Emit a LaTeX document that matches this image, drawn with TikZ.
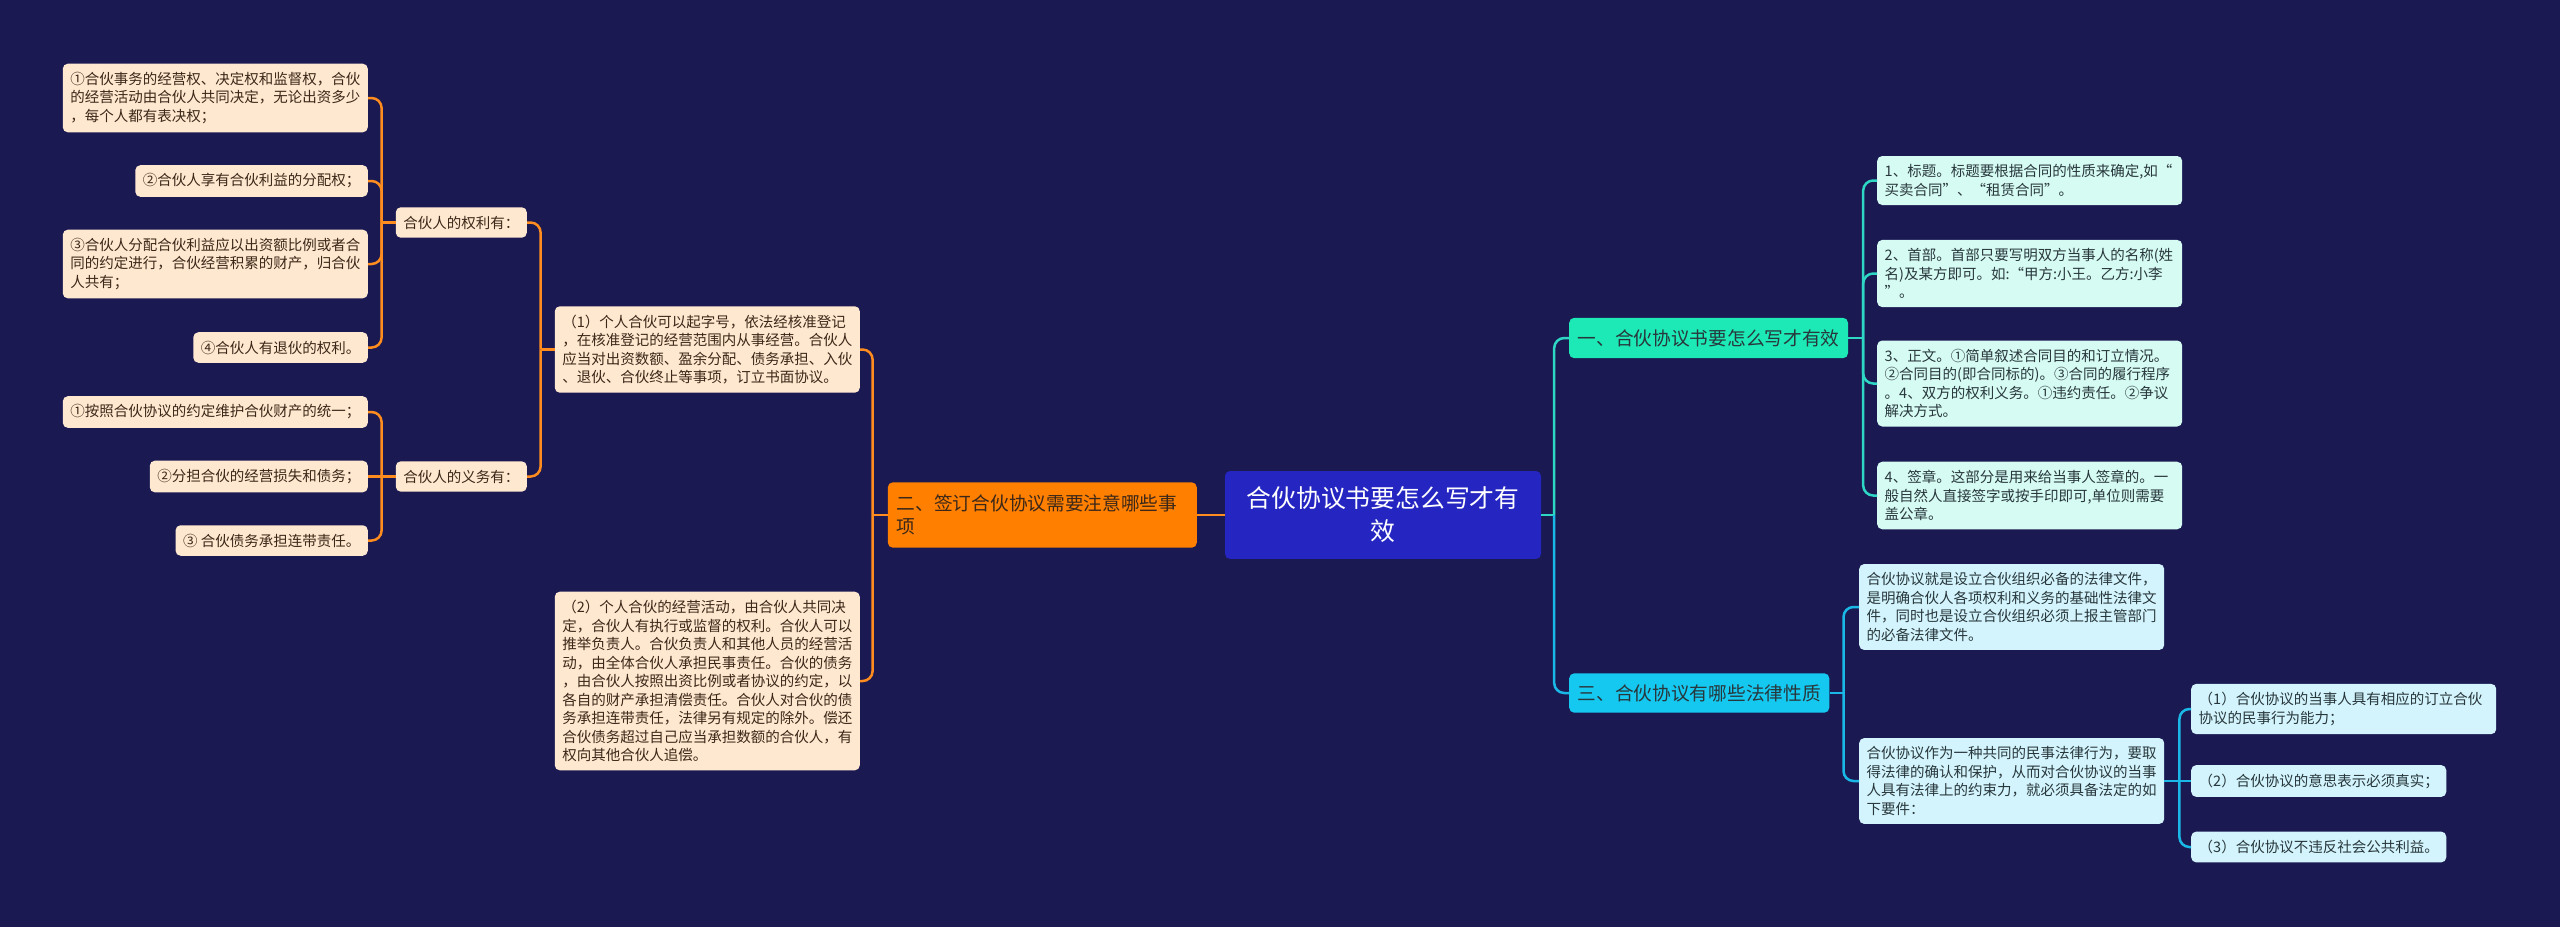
\documentclass[tikz,border=0pt]{standalone}
\usepackage{fontspec}
\setmainfont{Noto Sans CJK SC}
\usetikzlibrary{positioning}
\definecolor{bgnavy}{RGB}{26,25,82}
\definecolor{rootblue}{RGB}{37,38,194}
\definecolor{orangefill}{RGB}{255,127,0}
\definecolor{orangeline}{RGB}{255,140,30}
\definecolor{peach}{RGB}{255,232,208}
\definecolor{peachtext}{RGB}{60,40,25}
\definecolor{tealfill}{RGB}{29,233,182}
\definecolor{tealline}{RGB}{46,214,196}
\definecolor{mint}{RGB}{214,251,243}
\definecolor{cyanfill}{RGB}{21,200,240}
\definecolor{cyanline}{RGB}{26,184,230}
\definecolor{icecyan}{RGB}{211,244,252}
\definecolor{darktext}{RGB}{40,55,60}
\newcommand\leaffont{\fontsize{14.5}{18.5}\selectfont}
\newcommand\branchfont{\fontsize{18.7}{23}\selectfont}
\newcommand\rootfont{\fontsize{24.8}{33}\selectfont}
\tikzset{
  mapbox/.style={rounded corners=5pt, inner xsep=7.5pt, inner ysep=8.5pt, align=left, font=\leaffont},
  peachbox/.style={mapbox, fill=peach, text=peachtext},
  mintbox/.style={mapbox, fill=mint, text=darktext},
  icebox/.style={mapbox, fill=icecyan, text=darktext},
  wide/.style={text width=290pt},
  wire/.style={line width=2.5pt},
  elbow/.style={wire, rounded corners=10pt}
}

\begin{document}
\begin{tikzpicture}[x=1pt, y=-1pt]
  \fill[bgnavy] (0,0) rectangle (2560,927);

  % root
  \node[fill=rootblue, text=white, font=\rootfont, rounded corners=5pt,
        text width=290pt, align=center, inner xsep=13pt, inner ysep=16pt]
        (root) at (1383,515) {合伙协议书要怎么写才有\\效};

  % branch two (left)
  \node[fill=orangefill, text=peachtext, font=\branchfont, rounded corners=5pt,
        text width=291pt, align=left, inner xsep=9pt, inner ysep=12.5pt, anchor=east]
        (b2) at (1197,515) {二、签订合伙协议需要注意哪些事\\项};
  \node[peachbox, wide, anchor=east] (p1) at (860,349.5)
        {（1）个人合伙可以起字号，依法经核准登记\\，在核准登记的经营范围内从事经营。合伙人\\应当对出资数额、盈余分配、债务承担、入伙\\、退伙、合伙终止等事项，订立书面协议。};
  \node[peachbox, wide, anchor=east] (p2) at (860,681)
        {（2）个人合伙的经营活动，由合伙人共同决\\定，合伙人有执行或监督的权利。合伙人可以\\推举负责人。合伙负责人和其他人员的经营活\\动，由全体合伙人承担民事责任。合伙的债务\\，由合伙人按照出资比例或者协议的约定，以\\各自的财产承担清偿责任。合伙人对合伙的债\\务承担连带责任，法律另有规定的除外。偿还\\合伙债务超过自己应当承担数额的合伙人，有\\权向其他合伙人追偿。};
  \node[peachbox, anchor=east] (quan) at (527,222.5) {合伙人的权利有：};
  \node[peachbox, anchor=east] (yiwu) at (527,476.5) {合伙人的义务有：};

  \node[peachbox, wide, anchor=east] (q1) at (368,98)
        {①合伙事务的经营权、决定权和监督权，合伙\\的经营活动由合伙人共同决定，无论出资多少\\，每个人都有表决权；};
  \node[peachbox, anchor=east] (q2) at (368,181) {②合伙人享有合伙利益的分配权；};
  \node[peachbox, wide, anchor=east] (q3) at (368,264)
        {③合伙人分配合伙利益应以出资额比例或者合\\同的约定进行，合伙经营积累的财产，归合伙\\人共有；};
  \node[peachbox, anchor=east] (q4) at (368,347.5) {④合伙人有退伙的权利。};

  \node[peachbox, anchor=east] (y1) at (368,412) {①按照合伙协议的约定维护合伙财产的统一；};
  \node[peachbox, anchor=east] (y2) at (368,476.5) {②分担合伙的经营损失和债务；};
  \node[peachbox, anchor=east] (y3) at (368,540.5) {③ 合伙债务承担连带责任。};

  % branch one (right, top)
  \node[fill=tealfill, text=darktext, font=\branchfont, rounded corners=5pt,
        inner xsep=8.5pt, inner ysep=11.5pt, anchor=west]
        (b1) at (1569,338) {一、合伙协议书要怎么写才有效};
  \node[mintbox, wide, anchor=west] (r1) at (1877,180.5)
        {1、标题。标题要根据合同的性质来确定,如“\\买卖合同”、“租赁合同”。};
  \node[mintbox, wide, anchor=west] (r2) at (1877,273.5)
        {2、首部。首部只要写明双方当事人的名称(姓\\名)及某方即可。如:“甲方:小王。乙方:小李\\”。};
  \node[mintbox, wide, anchor=west] (r3) at (1877,383.5)
        {3、正文。①简单叙述合同目的和订立情况。\\②合同目的(即合同标的)。③合同的履行程序\\。4、双方的权利义务。①违约责任。②争议\\解决方式。};
  \node[mintbox, wide, anchor=west] (r4) at (1877,495.5)
        {4、签章。这部分是用来给当事人签章的。一\\般自然人直接签字或按手印即可,单位则需要\\盖公章。};

  % branch three (right, bottom)
  \node[fill=cyanfill, text=darktext, font=\branchfont, rounded corners=5pt,
        inner xsep=8.5pt, inner ysep=11pt, anchor=west]
        (b3) at (1569,693) {三、合伙协议有哪些法律性质};
  \node[icebox, wide, anchor=west] (s1) at (1859,607)
        {合伙协议就是设立合伙组织必备的法律文件，\\是明确合伙人各项权利和义务的基础性法律文\\件，同时也是设立合伙组织必须上报主管部门\\的必备法律文件。};
  \node[icebox, wide, anchor=west] (s2) at (1859,781)
        {合伙协议作为一种共同的民事法律行为，要取\\得法律的确认和保护，从而对合伙协议的当事\\人具有法律上的约束力，就必须具备法定的如\\下要件：};
  \node[icebox, wide, anchor=west] (t1) at (2191,709)
        {（1）合伙协议的当事人具有相应的订立合伙\\协议的民事行为能力；};
  \node[icebox, anchor=west] (t2) at (2191,781) {（2）合伙协议的意思表示必须真实；};
  \node[icebox, anchor=west] (t3) at (2191,847) {（3）合伙协议不违反社会公共利益。};

  % connectors, left side
  \draw[wire, orangeline] (root.west) -- (b2.east);
  \draw[wire, orangeline] (b2.west) -- ++(-15,0) coordinate (j2);
  \draw[elbow, orangeline] (j2) |- (p1.east);
  \draw[elbow, orangeline] (j2) |- (p2.east);
  \draw[wire, orangeline] (p1.west) -- ++(-14,0) coordinate (jp);
  \draw[elbow, orangeline] (jp) |- (quan.east);
  \draw[elbow, orangeline] (jp) |- (yiwu.east);
  \draw[wire, orangeline] (quan.west) -- ++(-14,0) coordinate (jq);
  \foreach \c in {q1,q2,q3,q4}
    \draw[elbow, orangeline] (jq) |- (\c.east);
  \draw[wire, orangeline] (yiwu.west) -- (y2.east);
  \path (yiwu.west) ++(-14,0) coordinate (jy);
  \foreach \c in {y1,y3}
    \draw[elbow, orangeline] (jy) |- (\c.east);

  % connectors, right side
  \draw[wire, tealline] (root.east) -- ++(13,0) coordinate (jr);
  \draw[elbow, tealline] (jr) |- (b1.west);
  \draw[elbow, cyanline] (jr) |- (b3.west);
  \draw[wire, tealline] (b1.east) -- ++(15,0) coordinate (j1);
  \foreach \c in {r1,r2,r3,r4}
    \draw[elbow, tealline] (j1) |- (\c.west);
  \draw[wire, cyanline] (b3.east) -- ++(14,0) coordinate (j3);
  \draw[elbow, cyanline] (j3) |- (s1.west);
  \draw[elbow, cyanline] (j3) |- (s2.west);
  \draw[wire, cyanline] (s2.east) -- (t2.west);
  \path (s2.east) ++(15,0) coordinate (js);
  \foreach \c in {t1,t3}
    \draw[elbow, cyanline] (js) |- (\c.west);
\end{tikzpicture}
\end{document}
